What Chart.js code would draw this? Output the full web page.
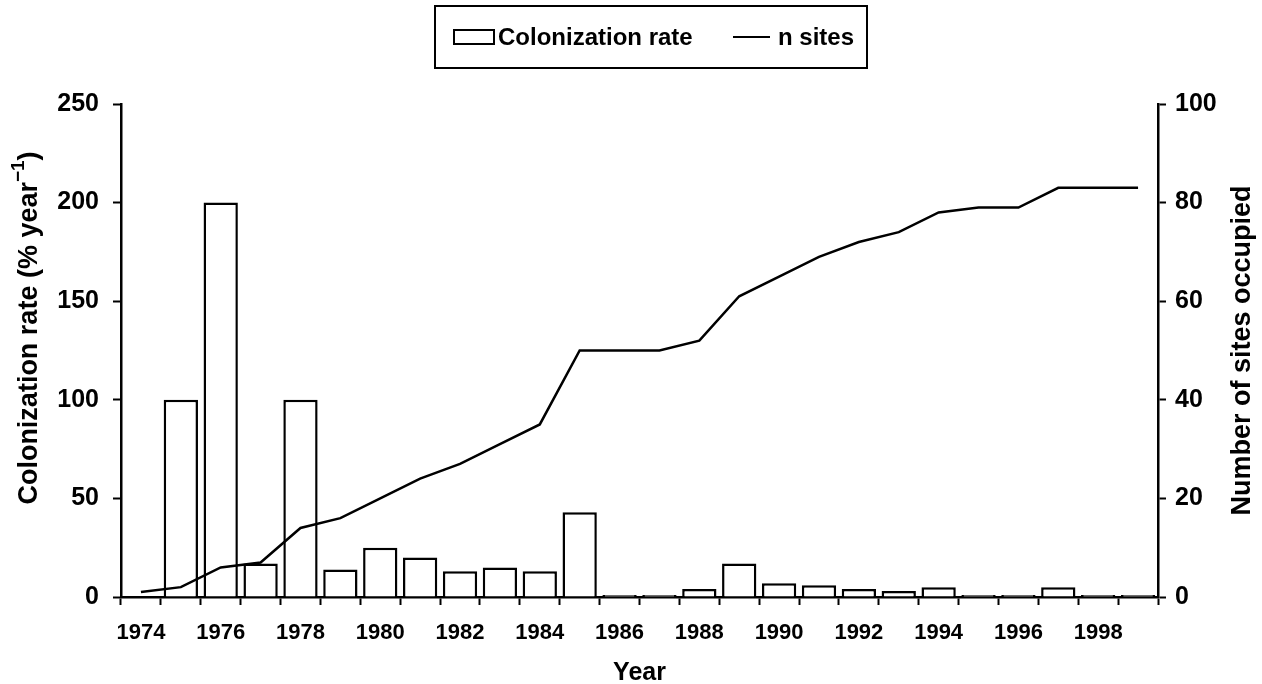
<!DOCTYPE html>
<html>
<head>
<meta charset="utf-8">
<script src="https://cdn.jsdelivr.net/npm/chart.js@4/dist/chart.umd.min.js"></script>
<style>
  html, body { margin: 0; padding: 0; background: #fff; }
  #wrap { position: relative; width: 1262px; height: 684px; }
  #legend {
    position: absolute; left: 434px; top: 5px; width: 430px; height: 60px;
    border: 2px solid #000; box-sizing: content-box;
    font: bold 24px "Liberation Sans", Arial, sans-serif; color: #000;
  }
  #legend .item { position: absolute; top: 16px; display: flex; align-items: center; }
  #legend .box { width: 38px; height: 12px; border: 2px solid #000; margin-right: 3px; }
  #legend .ln { width: 37px; height: 0; border-top: 2px solid #000; margin-right: 8px; }
</style>
</head>
<body>
<div id="wrap">
  <canvas id="chart" width="1262" height="684"></canvas>
  <div id="legend">
    <div class="item" style="left:17px"><span class="box"></span>Colonization rate</div>
    <div class="item" style="left:297px"><span class="ln"></span>n sites</div>
  </div>
</div>
<script>
// Jahre und Werte
const years = ["1974", "1975", "1976", "1977", "1978", "1979", "1980", "1981", "1982",
  "1983", "1984", "1985", "1986", "1987", "1988", "1989", "1990", "1991", "1992",
  "1993", "1994", "1995", "1996", "1997", "1998", "1999"];

// Kolonisierungsrate (% pro Jahr), 1974 ohne Balken
const colonizationRate = [null, 100, 200, 17, 100, 14, 25, 20, 13, 15, 13, 43, 1, 1,
  4, 17, 7, 6, 4, 3, 5, 1, 1, 5, 1, 1];

// Anzahl besetzter Standorte
const nSites = [1, 2, 6, 7, 14, 16, 20, 24, 27, 31, 35, 50, 50, 50, 52, 61, 65, 69,
  72, 74, 78, 79, 79, 83, 83, 83];

const leftTicks = [0, 50, 100, 150, 200, 250];
const rightTicks = [0, 20, 40, 60, 80, 100];

const FONT = '"Liberation Sans", Arial, sans-serif';

// y-Achsentitel selbst zeichnen (Hochstellung links, Leserichtung rechts)
const axisTitles = {
  id: "axisTitles",
  afterDraw(chart) {
    const ctx = chart.ctx;
    const area = chart.chartArea;
    ctx.save();
    ctx.fillStyle = "#000";
    ctx.textBaseline = "middle";

    // links
    const main = "Colonization rate (% year";
    const sup = "\u22121";
    const close = ")";
    ctx.font = "bold 27px " + FONT;
    const wMain = ctx.measureText(main).width;
    const wClose = ctx.measureText(close).width;
    ctx.font = "bold 19px " + FONT;
    const wSup = ctx.measureText(sup).width;
    const total = wMain + wSup + wClose;
    ctx.translate(30, 328);
    ctx.rotate(-Math.PI / 2);
    let x = -total / 2;
    ctx.textAlign = "left";
    ctx.font = "bold 27px " + FONT;
    ctx.fillText(main, x, 0);
    x += wMain;
    ctx.font = "bold 19px " + FONT;
    ctx.fillText(sup, x, -11);
    x += wSup;
    ctx.font = "bold 27px " + FONT;
    ctx.fillText(close, x, 0);
    ctx.restore();

    // rechts
    ctx.save();
    ctx.fillStyle = "#000";
    ctx.textBaseline = "middle";
    ctx.textAlign = "center";
    ctx.font = "bold 27px " + FONT;
    ctx.translate(1243, (area.top + area.bottom) / 2);
    ctx.rotate(-Math.PI / 2);
    ctx.fillText("Number of sites occupied", 0, 0);
    ctx.restore();
  },
};

new Chart(document.getElementById("chart"), {
  data: {
    labels: years,
    datasets: [
      {
        type: "line",
        label: "n sites",
        data: nSites,
        yAxisID: "y1",
        borderColor: "#000",
        borderWidth: 2.5,
        pointRadius: 0,
        tension: 0,
        order: 0,
      },
      {
        type: "bar",
        label: "Colonization rate",
        data: colonizationRate,
        yAxisID: "y",
        backgroundColor: "#fff",
        borderColor: "#000",
        borderWidth: 2.5,
        barPercentage: 0.86,
        categoryPercentage: 1,
        order: 1,
      },
    ],
  },
  options: {
    responsive: false,
    animation: false,
    layout: { padding: { top: 104, left: 0, right: 0, bottom: 0 } },
    plugins: {
      legend: { display: false },
      tooltip: { enabled: false },
    },
    scales: {
      x: {
        type: "category",
        offset: true,
        grid: {
          offset: true,
          drawOnChartArea: false,
          drawTicks: true,
          tickLength: 8,
          tickWidth: 2,
          tickColor: "#000",
        },
        border: { display: true, color: "#000", width: 2.5 },
        ticks: {
          autoSkip: false,
          maxRotation: 0,
          padding: 15,
          color: "#000",
          font: { family: FONT, size: 22, weight: "bold" },
          callback: (v, i) => (i % 2 === 0 ? years[i] : ""),
        },
        title: {
          display: true,
          text: "Year",
          color: "#000",
          padding: { top: 0, bottom: -4 },
          font: { family: FONT, size: 25, weight: "bold" },
        },
        afterFit: (s) => { s.height = 87; },
      },
      y: {
        position: "left",
        min: 0,
        max: 250,
        afterBuildTicks: (s) => { s.ticks = leftTicks.map((v) => ({ value: v })); },
        grid: {
          drawOnChartArea: false,
          tickLength: 8,
          tickWidth: 2,
          tickColor: "#000",
        },
        border: { display: true, color: "#000", width: 2.5 },
        ticks: {
          padding: 14,
          color: "#000",
          font: { family: FONT, size: 25, weight: "bold" },
        },
        afterFit: (s) => { s.width = 121; },
      },
      y1: {
        position: "right",
        min: 0,
        max: 100,
        afterBuildTicks: (s) => { s.ticks = rightTicks.map((v) => ({ value: v })); },
        grid: {
          drawOnChartArea: false,
          tickLength: 8,
          tickWidth: 2,
          tickColor: "#000",
        },
        border: { display: true, color: "#000", width: 2.5 },
        ticks: {
          padding: 9,
          color: "#000",
          font: { family: FONT, size: 25, weight: "bold" },
        },
        afterFit: (s) => { s.width = 104; },
      },
    },
  },
  plugins: [axisTitles],
});
</script>
</body>
</html>
